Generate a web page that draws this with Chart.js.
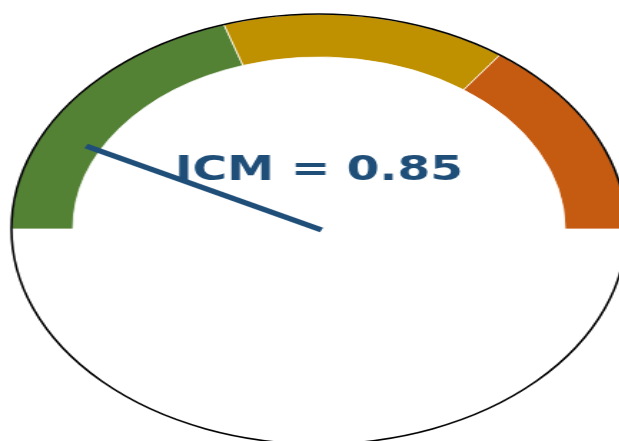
<!DOCTYPE html>
<html>
<head>
<meta charset="utf-8">
<script src="https://cdn.jsdelivr.net/npm/chart.js@4/dist/chart.umd.min.js"></script>
<style>
  html, body { margin: 0; padding: 0; background: #ffffff; }
  #wrap { position: relative; width: 619px; height: 441px; overflow: hidden; background: #ffffff; }
  #gauge { position: absolute; left: 0; top: 0; }
</style>
</head>
<body>
<div id="wrap">
  <!-- the dial is drawn round and stretched sideways into an oval -->
  <canvas id="gauge" width="446" height="458" style="width:638px;height:458px;"></canvas>
</div>
<script>
// Gauge zones, listed from the left end of the dial (1.0) to the right end (0.0)
const zoneLabels = ['Alto', 'Medio', 'Bajo'];
const zoneEdges = [1.0, 0.6, 0.3, 0.0];
const zoneColors = ['#548235', '#BF9000', '#C55A11'];

// Reading shown by the needle
const indexName = 'ICM';
const indexValue = 0.85;

const needleColor = '#1F4E79';

// Each zone's share of the upper half; the lower half is an empty filler slice
const zoneSpans = zoneLabels.map((_, i) => zoneEdges[i] - zoneEdges[i + 1]);
const fullSpan = zoneEdges[0] - zoneEdges[zoneEdges.length - 1];

const dialPlugin = {
  id: 'dial',
  afterDatasetsDraw(chart) {
    const arcs = chart.getDatasetMeta(0).data;
    const first = arcs[0];
    const last = arcs[zoneLabels.length - 1];
    const cx = first.x, cy = first.y, r = first.outerRadius;
    const ctx = chart.ctx;
    ctx.save();

    // outline of the whole dial
    ctx.beginPath();
    ctx.arc(cx, cy, r, 0, Math.PI * 2);
    ctx.strokeStyle = '#000000';
    ctx.lineWidth = 1.6;
    ctx.stroke();

    // caption
    ctx.fillStyle = needleColor;
    ctx.font = 'bold 33px "DejaVu Sans", sans-serif';
    ctx.textAlign = 'center';
    ctx.textBaseline = 'alphabetic';
    ctx.fillText(indexName + ' = ' + indexValue.toFixed(2), cx, cy - 0.228 * r);

    // needle: value 1 sits at the start of the first zone, 0 at the end of the last
    const a0 = first.startAngle, a1 = last.endAngle;
    const t = (zoneEdges[0] - indexValue) / fullSpan;
    const ang = a0 + t * (a1 - a0);
    const len = 0.85 * r;
    ctx.beginPath();
    ctx.moveTo(cx - 2 * Math.cos(ang), cy - 2 * Math.sin(ang));
    ctx.lineTo(cx + len * Math.cos(ang), cy + len * Math.sin(ang));
    ctx.strokeStyle = needleColor;
    ctx.lineWidth = 5;
    ctx.lineCap = 'butt';
    ctx.stroke();

    ctx.restore();
  }
};

new Chart(document.getElementById('gauge'), {
  type: 'doughnut',
  data: {
    labels: [...zoneLabels, ''],
    datasets: [{
      data: [...zoneSpans, fullSpan],
      backgroundColor: [...zoneColors, 'rgba(0,0,0,0)'],
      borderColor: '#ffffff',
      borderWidth: [0.8, 0.8, 0.8, 0],
      hoverOffset: 0
    }]
  },
  options: {
    responsive: false,
    animation: false,
    devicePixelRatio: 1,
    events: [],
    rotation: -90,
    circumference: 360,
    radius: 215,
    cutout: '80%',
    layout: { padding: 0 },
    plugins: {
      legend: { display: false },
      tooltip: { enabled: false },
      title: { display: false }
    }
  },
  plugins: [dialPlugin]
});
</script>
</body>
</html>
